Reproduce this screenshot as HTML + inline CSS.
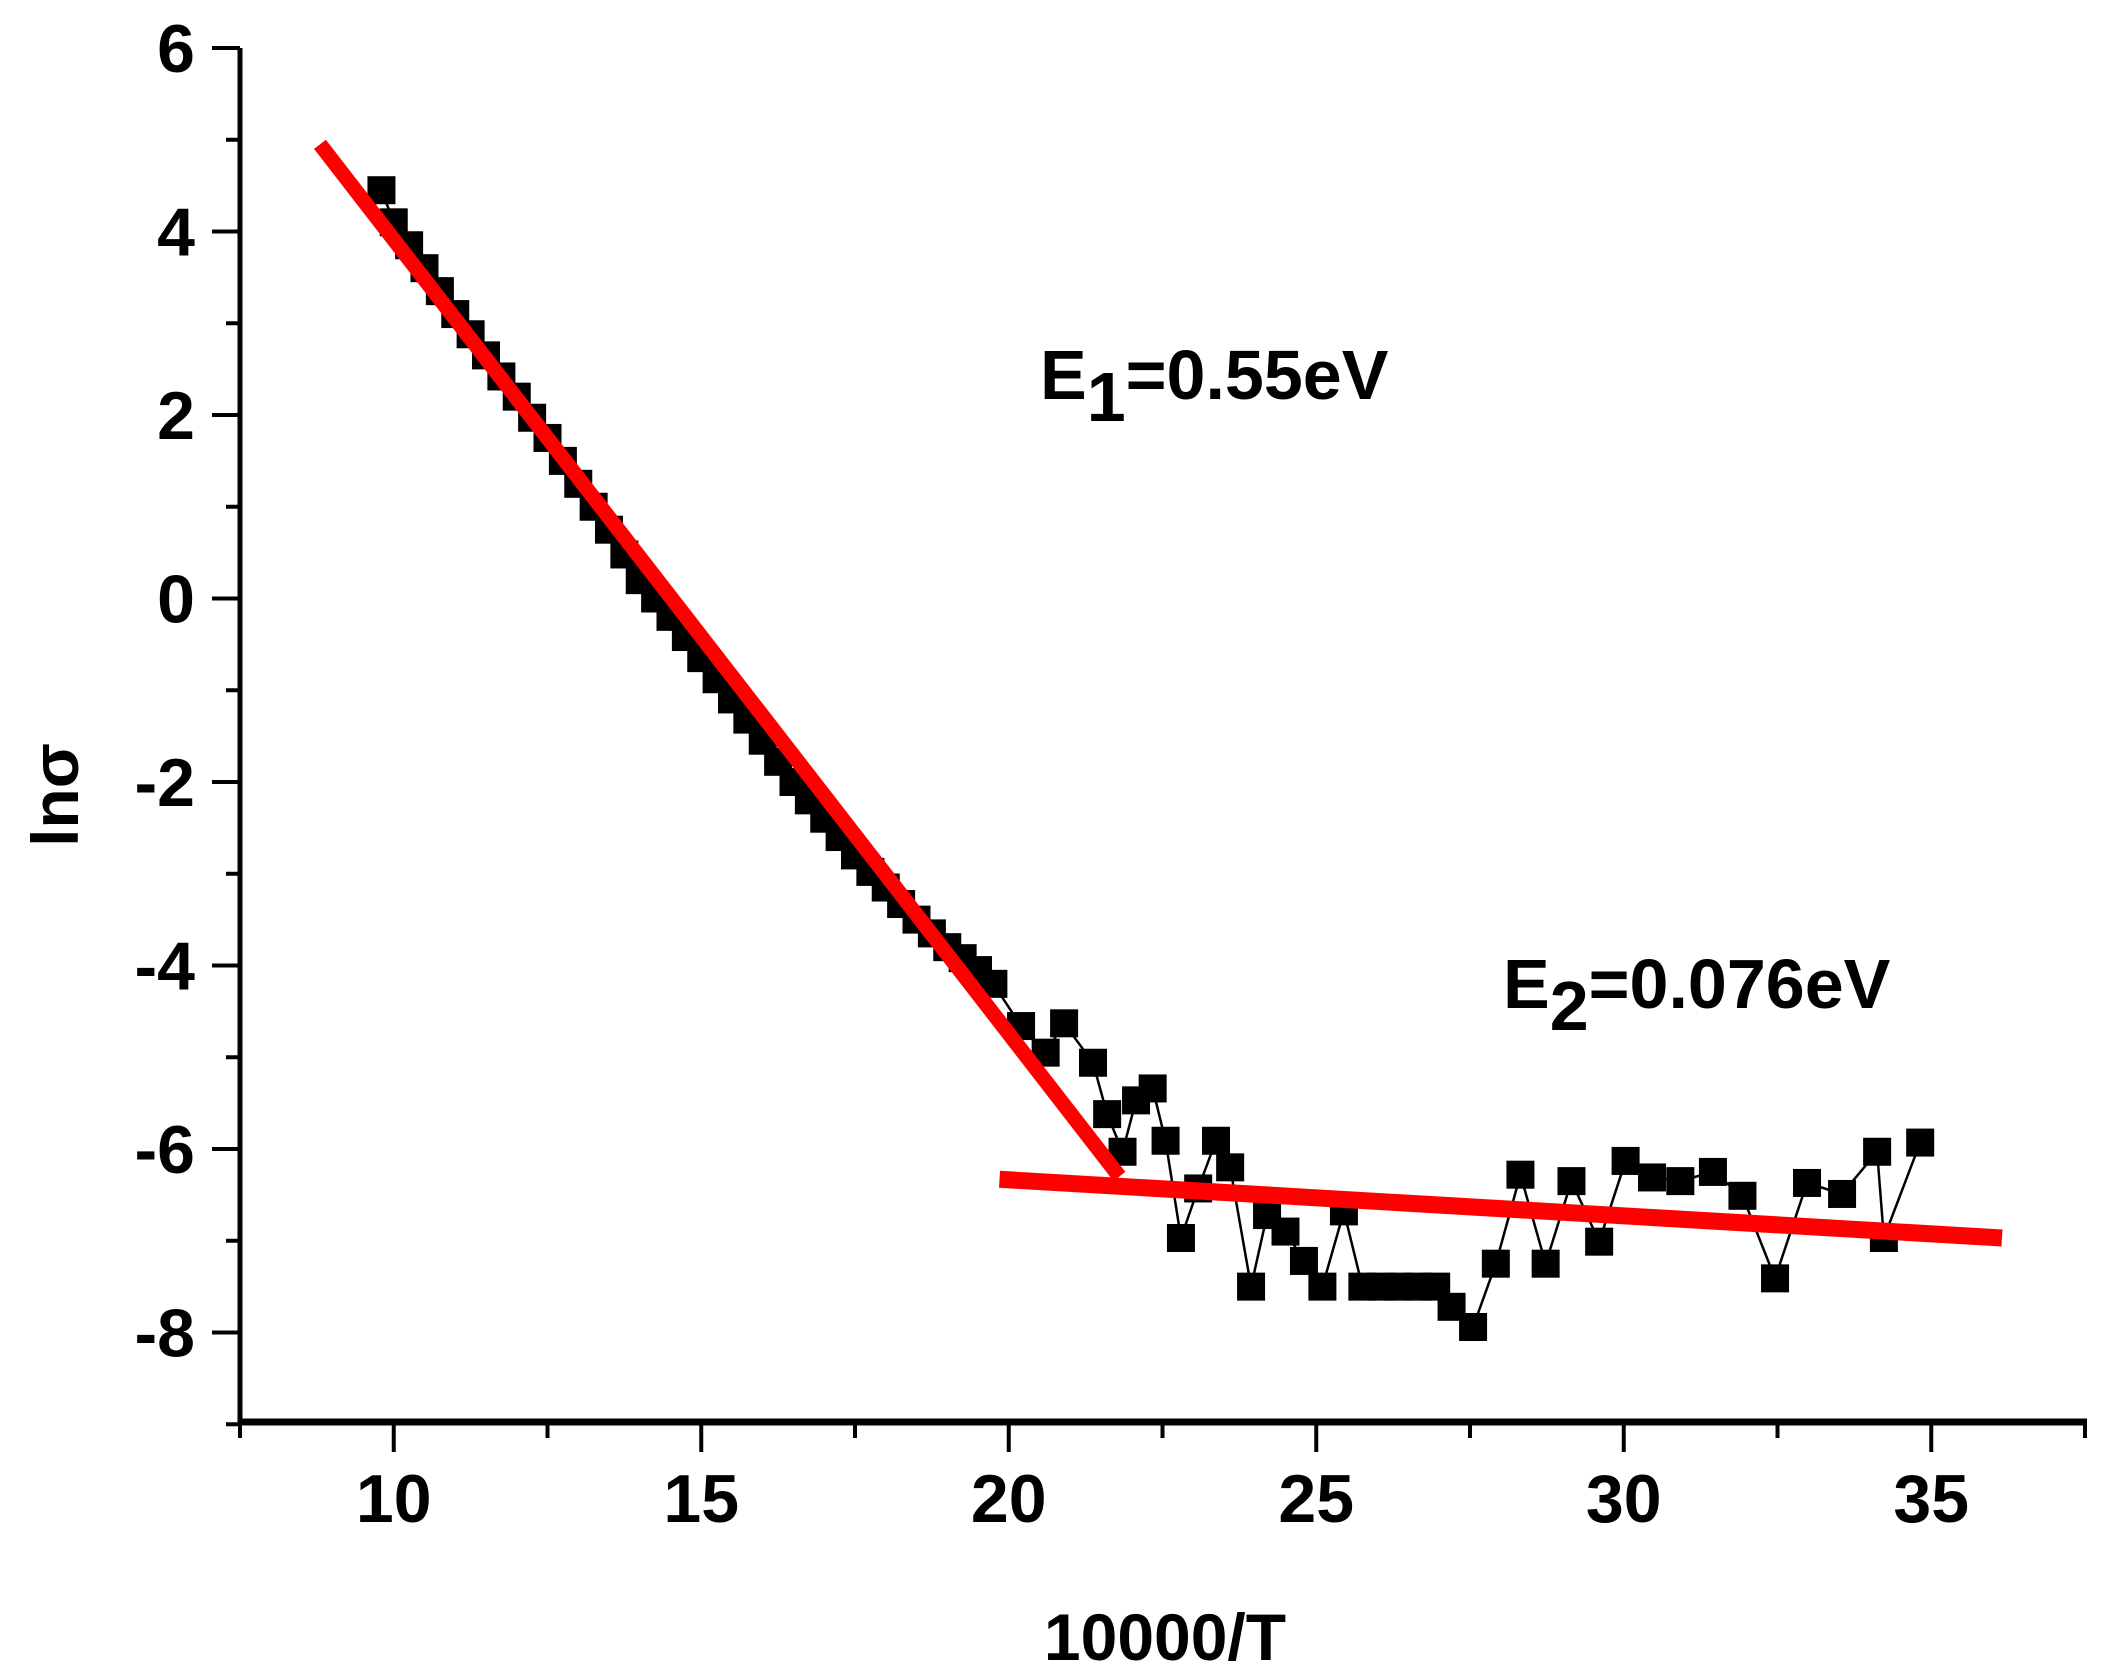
<!DOCTYPE html>
<html><head><meta charset="utf-8"><style>
html,body{margin:0;padding:0;background:#fff;}
svg{display:block;font-family:"Liberation Sans",Arial,sans-serif;font-weight:bold;}
</style></head><body>
<svg id="chart" width="2117" height="1672" viewBox="0 0 2117 1672" xmlns="http://www.w3.org/2000/svg">
<g id="axes"></g>
<g id="series"></g>
<g id="fits"></g>
<text x="1040" y="399" font-size="70">E<tspan font-size="70" dy="22">1</tspan><tspan dy="-22">=0.55eV</tspan></text>
<text x="1503" y="1008" font-size="70">E<tspan dy="22">2</tspan><tspan dy="-22">=0.076eV</tspan></text>
<text x="1165" y="1660" font-size="66" text-anchor="middle">10000/T</text>
<text transform="translate(78,795) rotate(-90)" font-size="66" text-anchor="middle">lnσ</text>
</svg>
<script>
const xTicks=[10,15,20,25,30,35];
const yTicks=[6,4,2,0,-2,-4,-6,-8];
const denseX=[9.8,10,10.25,10.5,10.75,11,11.25,11.5,11.75,12,12.25,12.5,12.75,13,13.25,13.5,13.75,14,14.25,14.5,14.75,15,15.25,15.5,15.75,16,16.25,16.5,16.75,17,17.25,17.5,17.75,18,18.25,18.5,18.75,19,19.25,19.5,19.75];
const denseY=[4.45,4.1,3.85,3.6,3.35,3.1,2.88,2.65,2.42,2.2,1.97,1.75,1.5,1.25,1.0,0.75,0.48,0.2,0.0,-0.2,-0.42,-0.65,-0.88,-1.1,-1.32,-1.55,-1.78,-2.0,-2.2,-2.4,-2.6,-2.8,-2.98,-3.15,-3.33,-3.5,-3.65,-3.8,-3.92,-4.05,-4.2];
const sparseX=[20.2,20.6,20.9,21.37,21.6,21.85,22.07,22.34,22.55,22.8,23.08,23.37,23.6,23.94,24.2,24.5,24.8,25.1,25.45,25.75,26.05,26.35,26.65,26.95,27.2,27.55,27.92,28.32,28.73,29.15,29.6,30.03,30.46,30.92,31.45,31.93,32.46,32.98,33.55,34.12,34.23,34.82];
const sparseY=[-4.66,-4.95,-4.63,-5.06,-5.62,-6.03,-5.47,-5.34,-5.91,-6.97,-6.43,-5.91,-6.2,-7.5,-6.72,-6.9,-7.22,-7.5,-6.68,-7.5,-7.5,-7.5,-7.5,-7.5,-7.72,-7.94,-7.25,-6.28,-7.25,-6.35,-7.01,-6.13,-6.31,-6.35,-6.25,-6.51,-7.41,-6.37,-6.49,-6.03,-6.97,-5.93];
const fit1X=[8.8,21.8];
const fit1Y=[4.95,-6.3];
const fit2X=[19.85,36.15];
const fit2Y=[-6.33,-6.97];

const NS="http://www.w3.org/2000/svg";
const X0=240,X1=2085,XMIN=7.5,XMAX=37.5;
const YTOP=48,YMAXV=6,PXU=91.75,YBOT=1422;
const sx=v=>X0+(v-XMIN)*(X1-X0)/(XMAX-XMIN);
const sy=v=>YTOP+(YMAXV-v)*PXU;
function mk(tag,attrs,parent){const e=document.createElementNS(NS,tag);for(const k in attrs)e.setAttribute(k,attrs[k]);parent.appendChild(e);return e;}
const axes=document.getElementById('axes');
let e=mk('line',{x1:X0,y1:YTOP,x2:X0,y2:YBOT,stroke:'#000','stroke-width':5},axes);


e=mk('line',{x1:X0-2,y1:YBOT,x2:X1+2,y2:YBOT,stroke:'#000','stroke-width':7},axes);


for(let v=7.5;v<=37.5;v+=2.5){const isMaj=(v%5===0);
  e=mk('line',{x1:sx(v),y1:YBOT,x2:sx(v),y2:YBOT+(isMaj?30:16),stroke:'#000','stroke-width':4},axes);
  
  }
xTicks.forEach(v=>{e=mk('text',{x:sx(v),y:1522,'font-size':68,'text-anchor':'middle'},axes);e.textContent=v;
  
  });
for(let v=-9;v<=6;v++){const isMaj=(v%2===0);
  e=mk('line',{x1:X0,y1:sy(v),x2:X0-(isMaj?28:14),y2:sy(v),stroke:'#000','stroke-width':4},axes);
  
  }
yTicks.forEach(v=>{e=mk('text',{x:195,y:sy(v)+24,'font-size':68,'text-anchor':'end'},axes);e.textContent=v;
  
  });
const ser=document.getElementById('series');
const allX=denseX.concat(sparseX),allY=denseY.concat(sparseY);
let pts=allX.map((x,i)=>sx(x)+','+sy(allY[i])).join(' ');
e=mk('polyline',{points:pts,fill:'none',stroke:'#000','stroke-width':2.5},ser);


allX.forEach((x,i)=>{e=mk('rect',{x:sx(x)-14,y:sy(allY[i])-14,width:28,height:28,fill:'#000'},ser);
  
  });
const fits=document.getElementById('fits');
e=mk('line',{x1:sx(fit1X[0]),y1:sy(fit1Y[0]),x2:sx(fit1X[1]),y2:sy(fit1Y[1]),stroke:'#ff0000','stroke-width':15},fits);


e=mk('line',{x1:sx(fit2X[0]),y1:sy(fit2Y[0]),x2:sx(fit2X[1]),y2:sy(fit2Y[1]),stroke:'#ff0000','stroke-width':17},fits);


</script>
</body></html>
